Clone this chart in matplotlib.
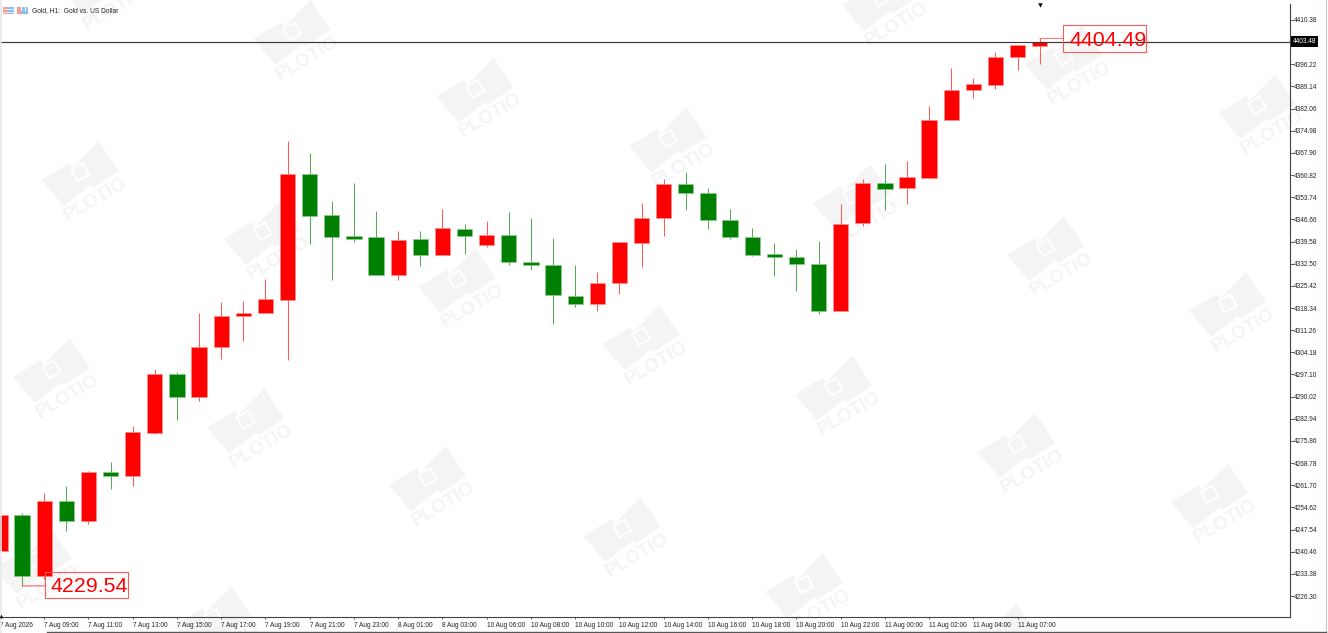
#!/usr/bin/env python
"""
Hourly gold candlestick chart with high/low labels and watermark.
"""
import matplotlib
matplotlib.use('agg')
import matplotlib.pyplot as plt
from matplotlib.patches import Polygon, Rectangle

WIDTH, HEIGHT = 1328, 633
FONT = 'Liberation Sans'

# bodies: a red candle closes above its open, a green one below
open_prices = [
    4240.68, 4252.28, 4232.69, 4256.66, 4250.17, 4265.93, 4264.75, 4278.39,
    4297.15, 4289.90, 4305.78, 4315.78, 4316.65, 4320.99, 4361.07, 4347.97,
    4341.25, 4340.94, 4328.89, 4340.30, 4335.18, 4343.68, 4338.57, 4341.57,
    4333.14, 4332.18, 4322.27, 4319.52, 4326.33, 4339.21, 4347.10, 4357.87,
    4355.19, 4346.56, 4340.94, 4335.69, 4334.74, 4332.40, 4317.48, 4345.41,
    4358.19, 4356.59, 4359.89, 4378.33, 4388.01, 4389.70, 4398.65, 4402.17]
high_prices = [
    4252.28, 4252.73, 4259.31, 4261.55, 4266.15, 4269.03, 4280.63, 4298.75,
    4297.79, 4316.65, 4320.16, 4320.58, 4327.61, 4371.62, 4367.88, 4352.54,
    4358.29, 4349.44, 4342.85, 4342.85, 4350.08, 4345.09, 4346.14, 4349.02,
    4347.01, 4340.62, 4332.18, 4329.75, 4339.53, 4351.90, 4359.57, 4361.71,
    4356.59, 4349.88, 4343.81, 4339.11, 4337.10, 4339.75, 4351.64, 4359.47,
    4364.46, 4365.22, 4382.80, 4394.94, 4391.84, 4400.25, 4402.49, 4404.49]
low_prices = [
    4240.68, 4229.54, 4231.73, 4247.07, 4249.31, 4260.50, 4261.55, 4278.17,
    4282.64, 4288.72, 4302.04, 4307.79, 4316.65, 4301.63, 4338.79, 4327.19,
    4339.53, 4328.89, 4327.38, 4331.86, 4335.18, 4335.60, 4337.93, 4332.08,
    4330.58, 4313.13, 4318.57, 4317.48, 4322.91, 4331.54, 4341.45, 4349.66,
    4343.49, 4340.49, 4334.96, 4328.47, 4323.87, 4316.33, 4317.48, 4344.55,
    4349.76, 4351.48, 4359.66, 4378.33, 4385.55, 4388.43, 4394.40, 4396.22]
close_prices = [
    4252.28, 4232.69, 4256.66, 4250.17, 4265.93, 4264.75, 4278.71, 4297.15,
    4289.90, 4305.88, 4315.88, 4316.74, 4321.22, 4361.07, 4347.74, 4341.13,
    4340.49, 4328.89, 4340.17, 4335.18, 4343.91, 4341.25, 4341.57, 4332.95,
    4332.08, 4322.40, 4319.52, 4326.43, 4339.34, 4347.20, 4357.87, 4355.00,
    4346.46, 4340.94, 4335.38, 4334.74, 4332.31, 4317.48, 4345.28, 4358.19,
    4356.37, 4360.11, 4378.33, 4388.01, 4390.02, 4398.65, 4402.29, 4403.48]

price_ticks = [
    4410.38, 4396.22, 4389.14, 4382.06, 4374.98, 4367.90, 4360.82, 4353.74,
    4346.66, 4339.58, 4332.50, 4325.42, 4318.34, 4311.26, 4304.18, 4297.10,
    4290.02, 4282.94, 4275.86, 4268.78, 4261.70, 4254.62, 4247.54, 4240.46,
    4233.38, 4226.30]
time_labels = [
    '7 Aug 2026', '7 Aug 09:00', '7 Aug 11:00', '7 Aug 13:00', '7 Aug 15:00',
    '7 Aug 17:00', '7 Aug 19:00', '7 Aug 21:00', '7 Aug 23:00', '8 Aug 01:00',
    '8 Aug 03:00', '10 Aug 06:00', '10 Aug 08:00', '10 Aug 10:00',
    '10 Aug 12:00', '10 Aug 14:00', '10 Aug 16:00', '10 Aug 18:00',
    '10 Aug 20:00', '10 Aug 22:00', '11 Aug 00:00', '11 Aug 02:00',
    '11 Aug 04:00', '11 Aug 07:00']
current_price = 4403.48
title = 'Gold, H1:  Gold vs. US Dollar'

# watermark centres in pixels
mark_centres = [
    (103.5, -10), (296.5, 40), (479.5, 97.5), (672.5, 147), (885, 6),
    (1068, 65), (1261.5, 114), (84.5, 181), (267, 240), (461.5, 288),
    (645.5, 345), (856, 204), (1050, 256), (1232, 312), (56, 378),
    (250, 428.5), (432, 486), (626.5, 537), (838, 395.5), (1021, 453),
    (1214, 503), (37.5, 569), (217.5, 626.5), (808.5, 593), (1002.5, 643.5)]


def pixel_axes(fig, zorder):
    ax = fig.add_axes([0, 0, 1, 1], zorder=zorder)
    ax.set_xlim(0, WIDTH)
    ax.set_ylim(HEIGHT, 0)
    ax.axis('off')
    ax.patch.set_alpha(0)
    return ax


def tilted_square(cx, cy, half):
    # square turned 30 degrees, same slant as the logo
    ux, uy = 0.866 * half, -0.5 * half
    vx, vy = 0.5 * half, 0.866 * half
    return [(cx - ux - vx, cy - uy - vy), (cx + ux - vx, cy + uy - vy),
            (cx + ux + vx, cy + uy + vy), (cx - ux + vx, cy - uy + vy)]


def draw_watermark(ax, cx, cy):
    grey = '#f4f4f4'
    body = [(-43, -1), (-15, -18), (-12, -13), (14, -40), (34, -10), (8, 7),
            (6, 4), (-21, 25)]
    ax.add_patch(Polygon([(cx + x, cy + y) for x, y in body], fc=grey, ec='none'))
    ax.add_patch(Polygon(tilted_square(cx - 4.3, cy - 8.7, 7.5), fc='white', ec='none'))
    ax.add_patch(Polygon(tilted_square(cx - 4.3, cy - 8.7, 5.5), fc=grey, ec='none'))
    ax.text(cx + 11.5, cy + 18, 'PLOTIO', color=grey, fontsize=13.5,
            fontweight='bold', family=FONT, rotation=30.5, rotation_mode='anchor',
            ha='center', va='center', clip_on=True)


def draw_value_box(ax, left, right, top, bottom, text):
    ax.add_patch(Rectangle((left, top), right - left, bottom - top, fc='none',
                           ec='#ff5a5a', lw=0.8))
    ax.text(right + 0.5, (top + bottom) / 2 + 1.5, text, color='#ff0000',
            fontsize=15.4, family=FONT, ha='right', va='center')


def main():
    fig = plt.figure(figsize=(WIDTH / 100, HEIGHT / 100), dpi=100)
    fig.patch.set_facecolor('white')

    back = pixel_axes(fig, 0)
    for cx, cy in mark_centres:
        draw_watermark(back, cx, cy)

    ax = fig.add_axes([0, (HEIGHT - 617.3) / HEIGHT, 1289.5 / WIDTH,
                       613.3 / HEIGHT], zorder=1)
    ax.patch.set_alpha(0)

    index = list(range(len(open_prices)))
    up = [c >= o for o, c in zip(open_prices, close_prices)]
    wick_colors = ['#ff5a5a' if u else '#5aa85a' for u in up]
    body_colors = ['#ff0000' if u else '#008000' for u in up]
    edge_colors = ['#ff9090' if u else '#90c890' for u in up]

    ax.vlines(index, low_prices, high_prices, colors=wick_colors, lw=0.75,
              zorder=2)
    ax.bar(index, [abs(c - o) for o, c in zip(open_prices, close_prices)],
           bottom=[min(o, c) for o, c in zip(open_prices, close_prices)],
           width=0.69, color=body_colors, edgecolor=edge_colors, linewidth=0.5,
           zorder=3)
    ax.axhline(current_price, color='#3a3a3a', lw=0.85, zorder=4)

    ax.set_xlim(0.04, 58.29)
    ax.set_ylim(4219.50, 4415.49)
    for side in ('top', 'left'):
        ax.spines[side].set_visible(False)
    for side in ('right', 'bottom'):
        ax.spines[side].set_color('#444444')
        ax.spines[side].set_linewidth(0.8)

    ax.yaxis.tick_right()
    ax.set_yticks(price_ticks)
    ax.set_yticklabels(['%.2f' % p for p in price_ticks])
    ax.tick_params(axis='y', length=2.6, width=0.6, pad=0.3, labelsize=4.7,
                   labelcolor='#222222', color='#444444')
    ax.set_xticks(index[::2])
    ax.set_xticklabels(time_labels, ha='left')
    ax.tick_params(axis='x', length=1.6, width=0.6, pad=1.8, labelsize=4.7,
                   labelcolor='#222222', color='#444444')
    for label in ax.get_xticklabels() + ax.get_yticklabels():
        label.set_family(FONT)

    ax.annotate('%.2f' % current_price, xy=(1, current_price),
                xycoords=('axes fraction', 'data'), xytext=(3, 0),
                textcoords='offset pixels', color='white', fontsize=4.7,
                family=FONT, va='center', ha='left', annotation_clip=False,
                bbox=dict(boxstyle='square,pad=0.25', fc='black', ec='none'))

    # connectors from the extreme candles to their value boxes
    i_low = low_prices.index(min(low_prices))
    i_high = high_prices.index(max(high_prices))
    ax.annotate('', xy=(i_low, low_prices[i_low]), xytext=(45.3, low_prices[i_low]),
                textcoords=('figure pixels', 'data'),
                arrowprops=dict(arrowstyle='-', color='#ff5a5a', lw=0.8,
                                shrinkA=0, shrinkB=0))
    ax.annotate('', xy=(i_high, high_prices[i_high]),
                xytext=(1063.3, high_prices[i_high]),
                textcoords=('figure pixels', 'data'),
                arrowprops=dict(arrowstyle='-', color='#ff7a7a', lw=0.8,
                                shrinkA=0, shrinkB=0))

    top = pixel_axes(fig, 2)
    draw_value_box(top, 45.3, 127.7, 572.3, 598.3, '%.2f' % min(low_prices))
    draw_value_box(top, 1063.3, 1146, 25.3, 52.3, '%.2f' % max(high_prices))

    # window chrome
    top.plot([0.5, 0.5], [0, 633], color='#e8e8e8', lw=1.2)
    top.plot([1326, 1326], [0, 633], color='#c4cccc', lw=0.9)
    top.plot([47, 1326], [632, 632], color='#555555', lw=1.0)
    top.plot([1040], [5], marker='v', ms=3.2, color='black', mew=0)
    top.plot([1], [616.3], marker='^', ms=2.6, color='black', mew=0)

    # header icons and title
    for x0 in (3, 17):
        top.add_patch(Rectangle((x0, 7), 5, 7, fc='#f49a9a', ec='none'))
        top.add_patch(Rectangle((x0 + 5, 7), 5.5, 7, fc='#8cc0ee', ec='none'))
    for y0 in (9, 11.5):
        top.plot([3, 13.5], [y0, y0], color='white', lw=0.5)
    top.plot([21, 21], [7, 10], color='white', lw=0.8)
    top.plot([25, 25], [7, 10], color='white', lw=0.8)
    top.text(32, 10.5, title, color='#222222', fontsize=4.8, family=FONT,
             ha='left', va='center')

    fig.savefig('out.png', dpi=100)


if __name__ == '__main__':
    main()
